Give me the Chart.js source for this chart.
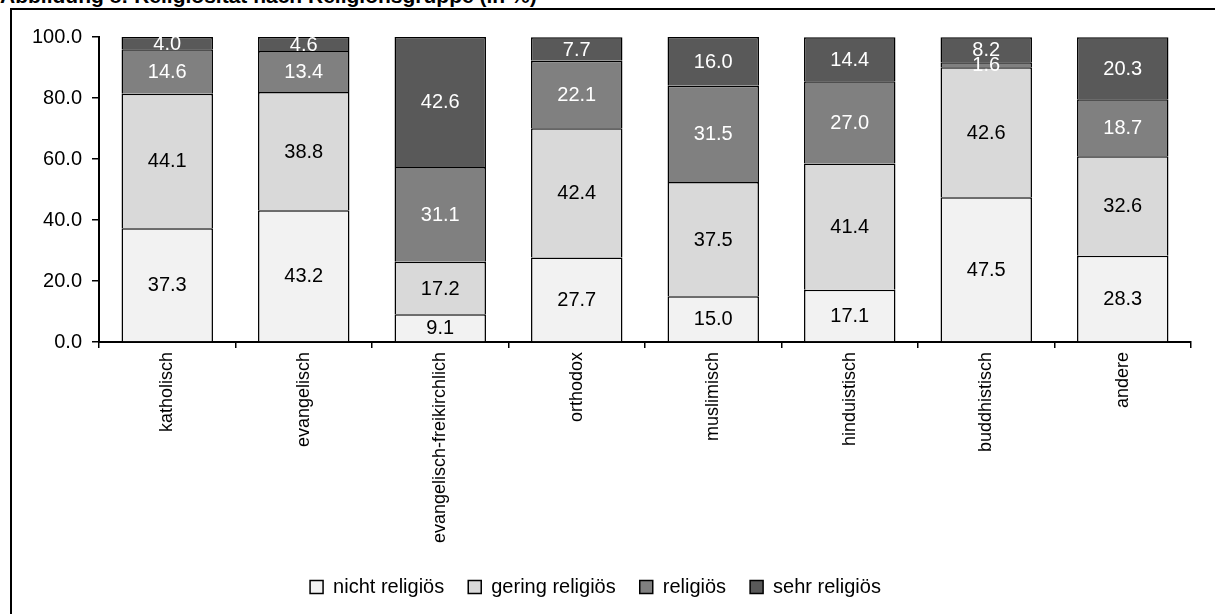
<!DOCTYPE html>
<html>
<head>
<meta charset="utf-8">
<script src="https://cdn.jsdelivr.net/npm/chart.js@4"></script>
<style>
body { margin:0; background:#fff; overflow:hidden; }
#title { position:absolute; left:0; top:-15px; font:bold 21px "Liberation Sans", Arial, sans-serif; line-height:21px; white-space:nowrap; color:#000; }
#frame { position:absolute; left:10px; top:8px; width:1220px; height:620px; border:2px solid #000; box-sizing:border-box; }
#wrap { position:absolute; left:0; top:0; width:1215px; height:614px; }
</style>
</head>
<body>
<div id="title">Abbildung 8: Religiosität nach Religionsgruppe (in %)</div>
<div id="frame"></div>
<div id="wrap"><canvas id="c" width="1215" height="614"></canvas></div>
<script>
// Werte
const categories = ["katholisch","evangelisch","evangelisch-freikirchlich","orthodox","muslimisch","hinduistisch","buddhistisch","andere"]
const nichtReligioes = [37.3, 43.2, 9.1, 27.7, 15.0, 17.1, 47.5, 28.3]
const geringReligioes = [44.1, 38.8, 17.2, 42.4, 37.5, 41.4, 42.6, 32.6]
const religioes = [14.6, 13.4, 31.1, 22.1, 31.5, 27.0, 1.6, 18.7]
const sehrReligioes = [4.0, 4.6, 42.6, 7.7, 16.0, 14.4, 8.2, 20.3]
const yTicks = [0, 20, 40, 60, 80, 100]

const seriesNames = ["nicht religiös","gering religiös","religiös","sehr religiös"]
const seriesColors = ["#f2f2f2","#d9d9d9","#808080","#595959"]
const labelColors = ["#000","#000","#fff","#fff"]

Chart.defaults.font.family = '"Liberation Sans", Arial, sans-serif'
Chart.defaults.font.size = 20
Chart.defaults.color = "#000"

var allData = [nichtReligioes, geringReligioes, religioes, sehrReligioes]
var datasets = []
for (var i = 0; i < allData.length; i++){
    datasets.push({
        label: seriesNames[i],
        data: allData[i],
        backgroundColor: seriesColors[i],
        borderColor: "#000",
        borderWidth: 1.5,
        categoryPercentage: 1.0,
        barPercentage: 0.67,
    })
}

// Werte in die Segmente schreiben
const valueLabels = {
    id: "valueLabels",
    afterDatasetsDraw(chart){
        const ctx = chart.ctx
        ctx.save()
        ctx.font = '20px "Liberation Sans", Arial, sans-serif'
        ctx.textAlign = "center"
        ctx.textBaseline = "middle"
        chart.data.datasets.forEach((ds, i) => {
            chart.getDatasetMeta(i).data.forEach((bar, j) => {
                ctx.fillStyle = labelColors[i]
                ctx.fillText(ds.data[j].toFixed(1), bar.x, (bar.y + bar.base)/2 + 1)
            })
        })
        ctx.restore()
    }
}

new Chart(document.getElementById("c"), {
    type: "bar",
    data: { labels: categories, datasets: datasets },
    plugins: [valueLabels],
    options: {
        responsive: false,
        animation: false,
        layout: { padding: { top: 37, right: 24, left: 0, bottom: 7 } },
        plugins: {
            tooltip: { enabled: false },
            legend: {
                position: "bottom",
                labels: { boxWidth: 13, boxHeight: 13, padding: 24, font: { size: 20 } }
            }
        },
        scales: {
            x: {
                stacked: true,
                afterFit: (s) => { s.height = 211 },
                grid: { display: true, drawOnChartArea: false, offset: true, color: "#000", lineWidth: 1.5, tickLength: 6 },
                border: { display: true, color: "#000", width: 2 },
                ticks: { maxRotation: 90, minRotation: 90, padding: 4, font: { size: 18 } }
            },
            y: {
                stacked: true,
                min: 0,
                max: 100,
                afterFit: (s) => { s.width = 99 },
                afterBuildTicks: (s) => { s.ticks = yTicks.map(v => ({ value: v })) },
                grid: { display: true, drawOnChartArea: false, color: "#000", lineWidth: 1.5, tickLength: 7 },
                border: { display: true, color: "#000", width: 2 },
                ticks: { padding: 10, callback: (v) => v.toFixed(1) }
            }
        }
    }
})
</script>
</body>
</html>
